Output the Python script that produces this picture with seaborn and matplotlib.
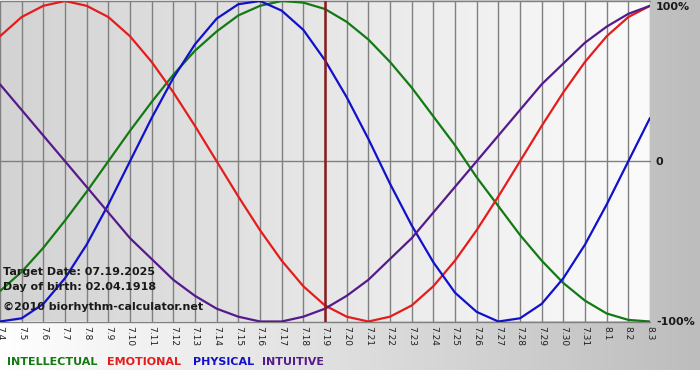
import numpy as np
import pandas as pd
import seaborn as sns
import matplotlib.pyplot as plt
from matplotlib.colors import LinearSegmentedColormap


### Data (one value per day, 7.4 -> 8.3):
days = ['7.4', '7.5', '7.6', '7.7', '7.8', '7.9', '7.10', '7.11', '7.12', '7.13',
        '7.14', '7.15', '7.16', '7.17', '7.18', '7.19', '7.20', '7.21', '7.22', '7.23',
        '7.24', '7.25', '7.26', '7.27', '7.28', '7.29', '7.30', '7.31', '8.1', '8.2', '8.3']

intellectual = [-0.81, -0.69, -0.54, -0.37, -0.19, 0.00, 0.19, 0.37, 0.54, 0.69,
                0.81, 0.91, 0.97, 1.00, 0.99, 0.95, 0.87, 0.76, 0.62, 0.46,
                0.28, 0.10, -0.10, -0.28, -0.46, -0.62, -0.76, -0.87, -0.95, -0.99, -1.00]

emotional = [0.78, 0.90, 0.97, 1.00, 0.97, 0.90, 0.78, 0.62, 0.43, 0.22,
             0.00, -0.22, -0.43, -0.62, -0.78, -0.90, -0.97, -1.00, -0.97, -0.90,
             -0.78, -0.62, -0.43, -0.22, 0.00, 0.22, 0.43, 0.62, 0.78, 0.90, 0.97]

physical = [-1.00, -0.98, -0.89, -0.73, -0.52, -0.27, 0.00, 0.27, 0.52, 0.73,
            0.89, 0.98, 1.00, 0.94, 0.82, 0.63, 0.40, 0.14, -0.14, -0.40,
            -0.63, -0.82, -0.94, -1.00, -0.98, -0.89, -0.73, -0.52, -0.27, 0.00, 0.27]

intuitive = [0.48, 0.32, 0.16, 0.00, -0.16, -0.32, -0.48, -0.61, -0.74, -0.84,
             -0.92, -0.97, -1.00, -1.00, -0.97, -0.92, -0.84, -0.74, -0.61, -0.48,
             -0.32, -0.16, 0.00, 0.16, 0.32, 0.48, 0.61, 0.74, 0.84, 0.92, 0.97]

rhythms = ['INTELLECTUAL', 'EMOTIONAL', 'PHYSICAL', 'INTUITIVE']
colors = ['#137a13', '#e51c1c', '#1111cc', '#551a8b']
target_idx = days.index('7.19')


### Long dataframe for seaborn:
x = list(range(len(days)))
df = pd.DataFrame({
    'day': x * 4,
    'value': intellectual + emotional + physical + intuitive,
    'rhythm': [r for r in rhythms for _ in days],
})


sns.set_style("white")
plt.rcParams['font.family'] = ['DejaVu Sans']

fig = plt.figure(figsize=(7, 3.8), dpi=100)
W, H = 700, 380

### figure background: white -> gray from left to right, white strip at the bottom
bg = fig.add_axes([0, 0, 1, 1], zorder=-10)
grad = np.linspace(0, 1, 256).reshape(1, -1)
bg_cmap = LinearSegmentedColormap.from_list('bg', ['#ffffff', '#bdbdbd'])
bg.imshow(grad, cmap=bg_cmap, aspect='auto', extent=[0, W, 10, H])
bg.set_xlim(0, W)
bg.set_ylim(0, H)
bg.axis('off')

### plot area
ax = fig.add_axes([0, 58.5 / H, 650 / W, 320.5 / H])
ax.patch.set_alpha(0)
plot_cmap = LinearSegmentedColormap.from_list('plot', ['#d3d3d3', '#fbfbfb'])
ax.imshow(grad, cmap=plot_cmap, aspect='auto', extent=[0, len(days) - 1, -1, 1], zorder=0)

for i in x:
    ax.axvline(i, color='#808080', lw=1, zorder=1)
for yv in [-1, 0, 1]:
    ax.axhline(yv, color='#808080', lw=1, zorder=1, clip_on=False)

sns.lineplot(data=df, x='day', y='value', hue='rhythm', palette=dict(zip(rhythms, colors)),
             lw=1.6, legend=False, ax=ax, zorder=3)

ax.axvline(target_idx, color='#8b1c1c', lw=1.8, zorder=4)

ax.set_xlim(0, len(days) - 1)
ax.set_ylim(-1, 1)
ax.set_xticks(x)
ax.set_xticklabels(days, rotation=-90, fontsize=6.5, color='#202020')
ax.tick_params(axis='x', length=0, pad=3)
ax.set_yticks([])
ax.set_xlabel('')
ax.set_ylabel('')
for s in ax.spines.values():
    s.set_visible(False)

### right side scale
for label, ypx in [('100%', 7), ('0', 162), ('-100%', 322)]:
    fig.text(656 / W, 1 - ypx / H, label, va='center', ha='left',
             fontsize=8, fontweight='bold', color='#1a1a1a')

### info text over the plot
info = [('Target Date: 07.19.2025', 272), ('Day of birth: 02.04.1918', 287),
        ('\u00a92010 biorhythm-calculator.net', 307)]
for txt, ypx in info:
    fig.text(3 / W, 1 - ypx / H, txt, va='center', ha='left',
             fontsize=8, fontweight='bold', color='#1a1a1a', zorder=10)

### colored legend words at the bottom
for name, col, xpx in zip(rhythms, colors, [7, 107, 193, 262]):
    fig.text(xpx / W, 1 - 362 / H, name, va='center', ha='left',
             fontsize=8, fontweight='bold', color=col)

plt.savefig('out.png', dpi=100)
